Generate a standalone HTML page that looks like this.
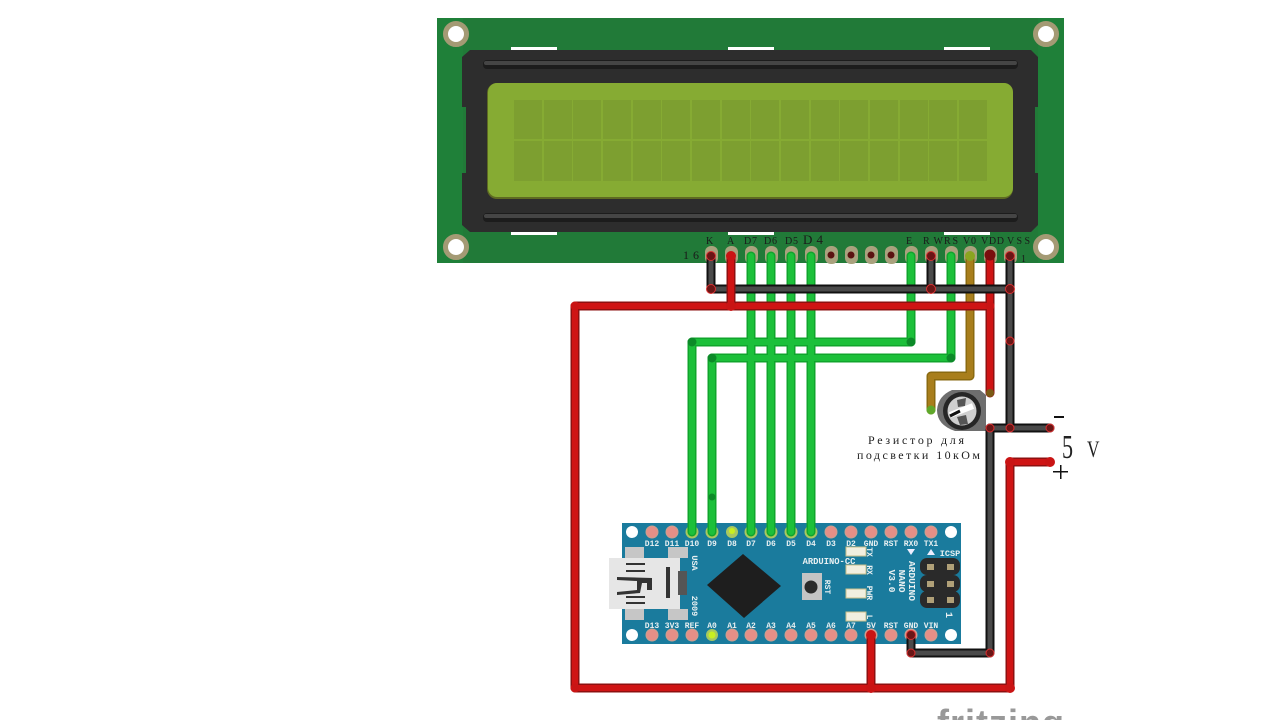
<!DOCTYPE html>
<html><head><meta charset="utf-8"><style>
html,body{margin:0;padding:0;background:#fff;width:1280px;height:720px;overflow:hidden}
svg{display:block}
text{font-family:"Liberation Sans",sans-serif}
.s{font-family:"Liberation Serif","Noto Serif CJK SC",serif;fill:#222}
.p{font-family:"Liberation Mono",monospace;fill:#e8f0f2;font-size:8px;font-weight:bold;text-anchor:middle}
.l{font-size:10px;font-family:"Liberation Serif",serif;fill:#1a1a1a}
.w{fill:none;stroke-linejoin:round;stroke-linecap:round}
</style></head><body>
<svg width="1280" height="720" viewBox="0 0 1280 720" xmlns="http://www.w3.org/2000/svg">
<!-- LCD board -->
<rect x="437" y="18" width="627" height="245" fill="#217a38"/>
<rect x="437" y="18" width="26" height="245" fill="#1f8039"/>
<rect x="1038" y="18" width="26" height="245" fill="#1f8039"/>
<g fill="#fff"><rect x="511" y="47" width="46" height="3"/><rect x="728" y="47" width="46" height="3"/><rect x="944" y="47" width="46" height="3"/>
<rect x="511" y="232" width="46" height="3"/><rect x="728" y="232" width="46" height="3"/><rect x="944" y="232" width="46" height="3"/></g>
<g fill="#fff" stroke="#a49a74" stroke-width="5">
<circle cx="456" cy="34" r="10.5"/><circle cx="1046" cy="34" r="10.5"/><circle cx="456" cy="247" r="10.5"/><circle cx="1046" cy="247" r="10.5"/></g>
<polygon points="470,50 1031,50 1038,57 1038,107 1035,107 1035,173 1038,173 1038,225 1031,232 470,232 462,225 462,173 466,173 466,107 462,107 462,57" fill="#2d2d2d"/>
<rect x="483" y="60" width="535" height="9" rx="4" fill="#1c1c1c"/>
<rect x="484" y="61" width="533" height="4" rx="2" fill="#454545"/>
<rect x="483" y="213" width="535" height="9" rx="4" fill="#1c1c1c"/>
<rect x="484" y="214" width="533" height="4" rx="2" fill="#454545"/>
<rect x="487" y="83" width="526" height="116" rx="10" fill="#5e6a22"/>
<rect x="488" y="83" width="525" height="114" rx="9" fill="#86ab33"/>
<g fill="#7d9f30">
<rect x="514" y="100" width="28" height="39"/><rect x="544" y="100" width="28" height="39"/><rect x="573" y="100" width="28" height="39"/><rect x="603" y="100" width="28" height="39"/><rect x="633" y="100" width="28" height="39"/><rect x="662" y="100" width="28" height="39"/><rect x="692" y="100" width="28" height="39"/><rect x="722" y="100" width="28" height="39"/><rect x="751" y="100" width="28" height="39"/><rect x="781" y="100" width="28" height="39"/><rect x="811" y="100" width="28" height="39"/><rect x="840" y="100" width="28" height="39"/><rect x="870" y="100" width="28" height="39"/><rect x="900" y="100" width="28" height="39"/><rect x="929" y="100" width="28" height="39"/><rect x="959" y="100" width="28" height="39"/>
<rect x="514" y="141" width="28" height="40"/><rect x="544" y="141" width="28" height="40"/><rect x="573" y="141" width="28" height="40"/><rect x="603" y="141" width="28" height="40"/><rect x="633" y="141" width="28" height="40"/><rect x="662" y="141" width="28" height="40"/><rect x="692" y="141" width="28" height="40"/><rect x="722" y="141" width="28" height="40"/><rect x="751" y="141" width="28" height="40"/><rect x="781" y="141" width="28" height="40"/><rect x="811" y="141" width="28" height="40"/><rect x="840" y="141" width="28" height="40"/><rect x="870" y="141" width="28" height="40"/><rect x="900" y="141" width="28" height="40"/><rect x="929" y="141" width="28" height="40"/><rect x="959" y="141" width="28" height="40"/>
</g>
<!-- LCD pins -->
<g fill="#a9a27e">
<rect x="705" y="246" width="13" height="18" rx="6"/><rect x="725" y="246" width="13" height="18" rx="6"/><rect x="745" y="246" width="13" height="18" rx="6"/><rect x="765" y="246" width="13" height="18" rx="6"/><rect x="785" y="246" width="13" height="18" rx="6"/><rect x="805" y="246" width="13" height="18" rx="6"/><rect x="825" y="246" width="13" height="18" rx="6"/><rect x="845" y="246" width="13" height="18" rx="6"/><rect x="865" y="246" width="13" height="18" rx="6"/><rect x="885" y="246" width="13" height="18" rx="6"/><rect x="905" y="246" width="13" height="18" rx="6"/><rect x="925" y="246" width="13" height="18" rx="6"/><rect x="945" y="246" width="13" height="18" rx="6"/><rect x="964" y="246" width="13" height="18" rx="6"/><rect x="984" y="246" width="13" height="18" rx="6"/><rect x="1004" y="246" width="13" height="18" rx="6"/>
</g>
<g fill="#5a1210"><circle cx="831" cy="255" r="3.5"/><circle cx="851" cy="255" r="3.5"/><circle cx="871" cy="255" r="3.5"/><circle cx="891" cy="255" r="3.5"/></g>
<text class="l" x="706" y="244" textLength="8" lengthAdjust="spacing">K</text>
<text class="l" x="727" y="244">A</text>
<text class="l" x="744" y="244" textLength="13" lengthAdjust="spacing">D7</text>
<text class="l" x="764" y="244" textLength="13" lengthAdjust="spacing">D6</text>
<text class="l" x="785" y="244" textLength="13" lengthAdjust="spacing">D5</text>
<text class="l" x="803" y="244" textLength="20" lengthAdjust="spacing" style="font-size:13px">D4</text>
<text class="l" x="906" y="244">E</text>
<text class="l" x="923" y="244" textLength="20" lengthAdjust="spacing">RW</text>
<text class="l" x="944" y="244" textLength="14" lengthAdjust="spacing">RS</text>
<text class="l" x="963" y="244" textLength="13" lengthAdjust="spacing">V0</text>
<text class="l" x="981" y="244" textLength="23" lengthAdjust="spacing">VDD</text>
<text class="l" x="1007" y="244" textLength="23" lengthAdjust="spacing">VSS</text>
<text class="l" x="683" y="259" textLength="16" lengthAdjust="spacing" style="font-size:12px">16</text>
<text class="l" x="1021" y="262">1</text>
<!-- Arduino -->
<rect x="622" y="523" width="339" height="121" fill="#1a7b9d"/>
<circle cx="632" cy="532" r="6" fill="#fff"/><circle cx="632" cy="635" r="6" fill="#fff"/><circle cx="951" cy="532" r="6" fill="#fff"/><circle cx="951" cy="635" r="6" fill="#fff"/>
<g fill="#e58f87" stroke="#c9a08f" stroke-width="1">
<circle cx="652" cy="532" r="6"/><circle cx="672" cy="532" r="6"/><circle cx="831" cy="532" r="6"/><circle cx="851" cy="532" r="6"/><circle cx="871" cy="532" r="6"/><circle cx="891" cy="532" r="6"/><circle cx="911" cy="532" r="6"/><circle cx="931" cy="532" r="6"/>
<circle cx="652" cy="635" r="6"/><circle cx="672" cy="635" r="6"/><circle cx="692" cy="635" r="6"/><circle cx="732" cy="635" r="6"/><circle cx="751" cy="635" r="6"/><circle cx="771" cy="635" r="6"/><circle cx="791" cy="635" r="6"/><circle cx="811" cy="635" r="6"/><circle cx="831" cy="635" r="6"/><circle cx="851" cy="635" r="6"/><circle cx="871" cy="635" r="6"/><circle cx="891" cy="635" r="6"/><circle cx="911" cy="635" r="6"/><circle cx="931" cy="635" r="6"/>
</g>
<g fill="#a8c860"><circle cx="692" cy="532" r="6.5"/><circle cx="712" cy="532" r="6.5"/><circle cx="751" cy="532" r="6.5"/><circle cx="771" cy="532" r="6.5"/><circle cx="791" cy="532" r="6.5"/><circle cx="811" cy="532" r="6.5"/></g>
<circle cx="732" cy="532" r="6" fill="#a8c860"/><circle cx="732" cy="531" r="3" fill="#c8f020"/>
<circle cx="712" cy="635" r="6" fill="#a8c860"/><circle cx="712" cy="635" r="3.5" fill="#c8f020"/>
<text class="p" x="652" y="546">D12</text><text class="p" x="672" y="546">D11</text><text class="p" x="692" y="546">D10</text><text class="p" x="712" y="546">D9</text><text class="p" x="732" y="546">D8</text><text class="p" x="751" y="546">D7</text><text class="p" x="771" y="546">D6</text><text class="p" x="791" y="546">D5</text><text class="p" x="811" y="546">D4</text><text class="p" x="831" y="546">D3</text><text class="p" x="851" y="546">D2</text><text class="p" x="871" y="546">GND</text><text class="p" x="891" y="546">RST</text><text class="p" x="911" y="546">RX0</text><text class="p" x="931" y="546">TX1</text>
<text class="p" x="652" y="628">D13</text><text class="p" x="672" y="628">3V3</text><text class="p" x="692" y="628">REF</text><text class="p" x="712" y="628">A0</text><text class="p" x="732" y="628">A1</text><text class="p" x="751" y="628">A2</text><text class="p" x="771" y="628">A3</text><text class="p" x="791" y="628">A4</text><text class="p" x="811" y="628">A5</text><text class="p" x="831" y="628">A6</text><text class="p" x="851" y="628">A7</text><text class="p" x="871" y="628">5V</text><text class="p" x="891" y="628">RST</text><text class="p" x="911" y="628">GND</text><text class="p" x="931" y="628">VIN</text>
<text class="p" x="829" y="564" style="font-size:8.8px">ARDUINO-CC</text>
<text class="p" x="950" y="556" style="font-size:8.5px">ICSP</text>
<text class="p" transform="translate(692,563) rotate(90)" style="font-size:8.5px">USA</text>
<text class="p" transform="translate(692,606) rotate(90)" style="font-size:8.5px">2009</text>
<text class="p" transform="translate(825,587) rotate(90)">RST</text>
<text class="p" transform="translate(867,552) rotate(90)">TX</text>
<text class="p" transform="translate(867,570) rotate(90)">RX</text>
<text class="p" transform="translate(867,593) rotate(90)">PWR</text>
<text class="p" transform="translate(867,617) rotate(90)">L</text>
<text class="p" transform="translate(909,581) rotate(90)" style="font-size:9.5px">ARDUINO</text>
<text class="p" transform="translate(899,581) rotate(90)" style="font-size:9.5px">NANO</text>
<text class="p" transform="translate(889,581) rotate(90)" style="font-size:9.5px">V3.0</text>
<text class="p" transform="translate(946,615) rotate(90)" style="font-size:10px">1</text>
<polygon points="907,549 915,549 911,555" fill="#eef"/><polygon points="927,555 935,555 931,549" fill="#eef"/>
<!-- LEDs -->
<g fill="#f1efe0" stroke="#cbbf8a" stroke-width="1"><rect x="846" y="547" width="20" height="9"/><rect x="846" y="565" width="20" height="9"/><rect x="846" y="589" width="20" height="9"/><rect x="846" y="612" width="20" height="9"/></g>
<!-- reset -->
<rect x="802" y="573" width="20" height="27" fill="#c4c4c4"/><circle cx="811" cy="587" r="6.5" fill="#2b2b2b"/>
<!-- chip -->
<polygon points="743,554 781,586 744,618 707,585" fill="#1e1e1e"/>
<!-- usb -->
<rect x="625" y="547" width="19" height="11" fill="#c6c6c6"/><rect x="625" y="609" width="19" height="11" fill="#c6c6c6"/>
<rect x="668" y="547" width="20" height="11" fill="#c6c6c6"/><rect x="668" y="609" width="20" height="11" fill="#c6c6c6"/>
<rect x="609" y="558" width="71" height="51" fill="#e6e6e6"/>
<rect x="666" y="567" width="4" height="31" fill="#333"/>
<rect x="678" y="571" width="9" height="24" fill="#555"/>
<g fill="#333"><rect x="626" y="563" width="19" height="2"/><rect x="626" y="570" width="19" height="2"/><rect x="626" y="596" width="19" height="2"/><rect x="626" y="602" width="19" height="2"/>
<polygon points="617,577 652,578 652,590 647,590 647,583 642,583 640,593 617,595 617,592 637,590 637,581 617,580"/></g>
<!-- ICSP -->
<g fill="#2a2a2a"><rect x="920" y="558" width="40" height="17" rx="7"/><rect x="920" y="575" width="40" height="17" rx="7"/><rect x="920" y="591" width="40" height="17" rx="7"/></g>
<g fill="#b0a078"><rect x="927" y="564" width="7" height="6"/><rect x="947" y="564" width="7" height="6"/><rect x="927" y="581" width="7" height="6"/><rect x="947" y="581" width="7" height="6"/><rect x="927" y="597" width="7" height="6"/><rect x="947" y="597" width="7" height="6"/></g>
<!-- Green wires -->
<g class="w" stroke="#10a52c" stroke-width="9">
<path d="M751 256V532M771 256V532M791 256V532M811 256V532"/>
<path d="M911 256V342H692V532"/>
<path d="M951 256V358H712V532"/>
</g>
<g class="w" stroke="#1cc03a" stroke-width="6">
<path d="M751 256V532M771 256V532M791 256V532M811 256V532"/>
<path d="M911 256V342H692V532"/>
<path d="M951 256V358H712V532"/>
</g>
<g fill="#0c8a28"><circle cx="692" cy="342" r="4.5"/><circle cx="911" cy="342" r="4.5"/><circle cx="712" cy="358" r="4.5"/><circle cx="951" cy="358" r="4.5"/><circle cx="712" cy="497" r="3.5"/></g>
<!-- V0 brown -->
<path class="w" d="M970 256V376H931V410" stroke="#8a6a10" stroke-width="9"/>
<path class="w" d="M970 256V376H931V410" stroke="#a87e1c" stroke-width="6"/>
<circle cx="970" cy="256" r="5" fill="#8aa520"/>
<!-- Potentiometer -->
<path d="M952 390H980L986 395V431H955Q937 425 937 410Q938 396 952 390Z" fill="#6e6e6e"/>
<circle cx="962" cy="411" r="19" fill="#262626"/>
<circle cx="962" cy="411" r="14.5" fill="#cfcfcf"/>
<path d="M957 400L966 398L965 406L958 407Z" fill="#555"/>
<path d="M957 417L966 415L968 424L960 425Z" fill="#555"/>
<path d="M950 415L973 406" stroke="#fff" stroke-width="6"/>
<path d="M950 416L960 411" stroke="#111" stroke-width="3"/>
<circle cx="931" cy="410" r="4.5" fill="#5fa82a"/>
<!-- Red under black -->
<g class="w" stroke="#8e1010" stroke-width="9">
<path d="M990 256V393"/><path d="M990 306H575V688H1010V462H1050"/><path d="M871 635V688"/>
</g>
<g class="w" stroke="#cf1414" stroke-width="6">
<path d="M990 256V393"/><path d="M990 306H575V688H1010V462H1050"/><path d="M871 635V688"/>
</g>
<!-- Black wires -->
<g class="w" stroke="#111" stroke-width="9">
<path d="M711 256V289H1010"/><path d="M931 256V289"/><path d="M1010 256V428"/>
<path d="M990 428H1050"/><path d="M990 428V653H911V635"/>
</g>
<g class="w" stroke="#4a4a4a" stroke-width="5">
<path d="M711 256V289H1010"/><path d="M931 256V289"/><path d="M1010 256V428"/>
<path d="M990 428H1050"/><path d="M990 428V653H911V635"/>
</g>
<!-- Red over black -->
<path class="w" d="M731 256V306" stroke="#8e1010" stroke-width="9"/>
<path class="w" d="M731 256V306" stroke="#cf1414" stroke-width="6"/>
<!-- joints -->
<g fill="#6a1616" stroke="#d83030" stroke-width="1">
<circle cx="711" cy="256" r="4.5"/><circle cx="711" cy="289" r="4.5"/><circle cx="931" cy="256" r="4.5"/><circle cx="931" cy="289" r="4.5"/><circle cx="1010" cy="256" r="4.5"/><circle cx="1010" cy="289" r="4.5"/><circle cx="1010" cy="341" r="4"/><circle cx="990" cy="428" r="4"/><circle cx="1010" cy="428" r="4"/><circle cx="1050" cy="428" r="4"/><circle cx="990" cy="653" r="4"/><circle cx="911" cy="653" r="4"/><circle cx="911" cy="635" r="4.5"/>
</g>
<circle cx="990" cy="255" r="5.5" fill="#7a0e0e"/>
<g fill="#c91414"><circle cx="731" cy="256" r="5"/><circle cx="731" cy="306" r="5"/><circle cx="575" cy="306" r="4.5"/><circle cx="990" cy="306" r="4.5"/><circle cx="871" cy="635" r="5"/><circle cx="871" cy="688" r="5"/><circle cx="1010" cy="688" r="5"/><circle cx="1010" cy="462" r="5"/><circle cx="1050" cy="462" r="5"/><circle cx="575" cy="688" r="4.5"/></g>
<circle cx="990" cy="393" r="4" fill="#7a5a14"/>
<!-- Labels -->
<text class="s" x="868" y="444" font-size="12" textLength="96" lengthAdjust="spacing">Резистор для</text>
<text class="s" x="857" y="459" font-size="12" textLength="123" lengthAdjust="spacing">подсветки 10кОм</text>
<text class="s" transform="translate(1062,458) scale(.65,1)" font-size="34">5</text>
<text class="s" transform="translate(1087,457) scale(.75,1)" font-size="23">V</text>
<rect x="1054" y="416" width="10" height="2" fill="#111"/>
<rect x="1053" y="471" width="15" height="1.5" fill="#111"/><rect x="1060" y="465" width="1.5" height="14" fill="#111"/>
<text x="937" y="735" font-size="36" font-weight="bold" fill="#999" textLength="127" lengthAdjust="spacing">fritzing</text>
</svg>
</body></html>
